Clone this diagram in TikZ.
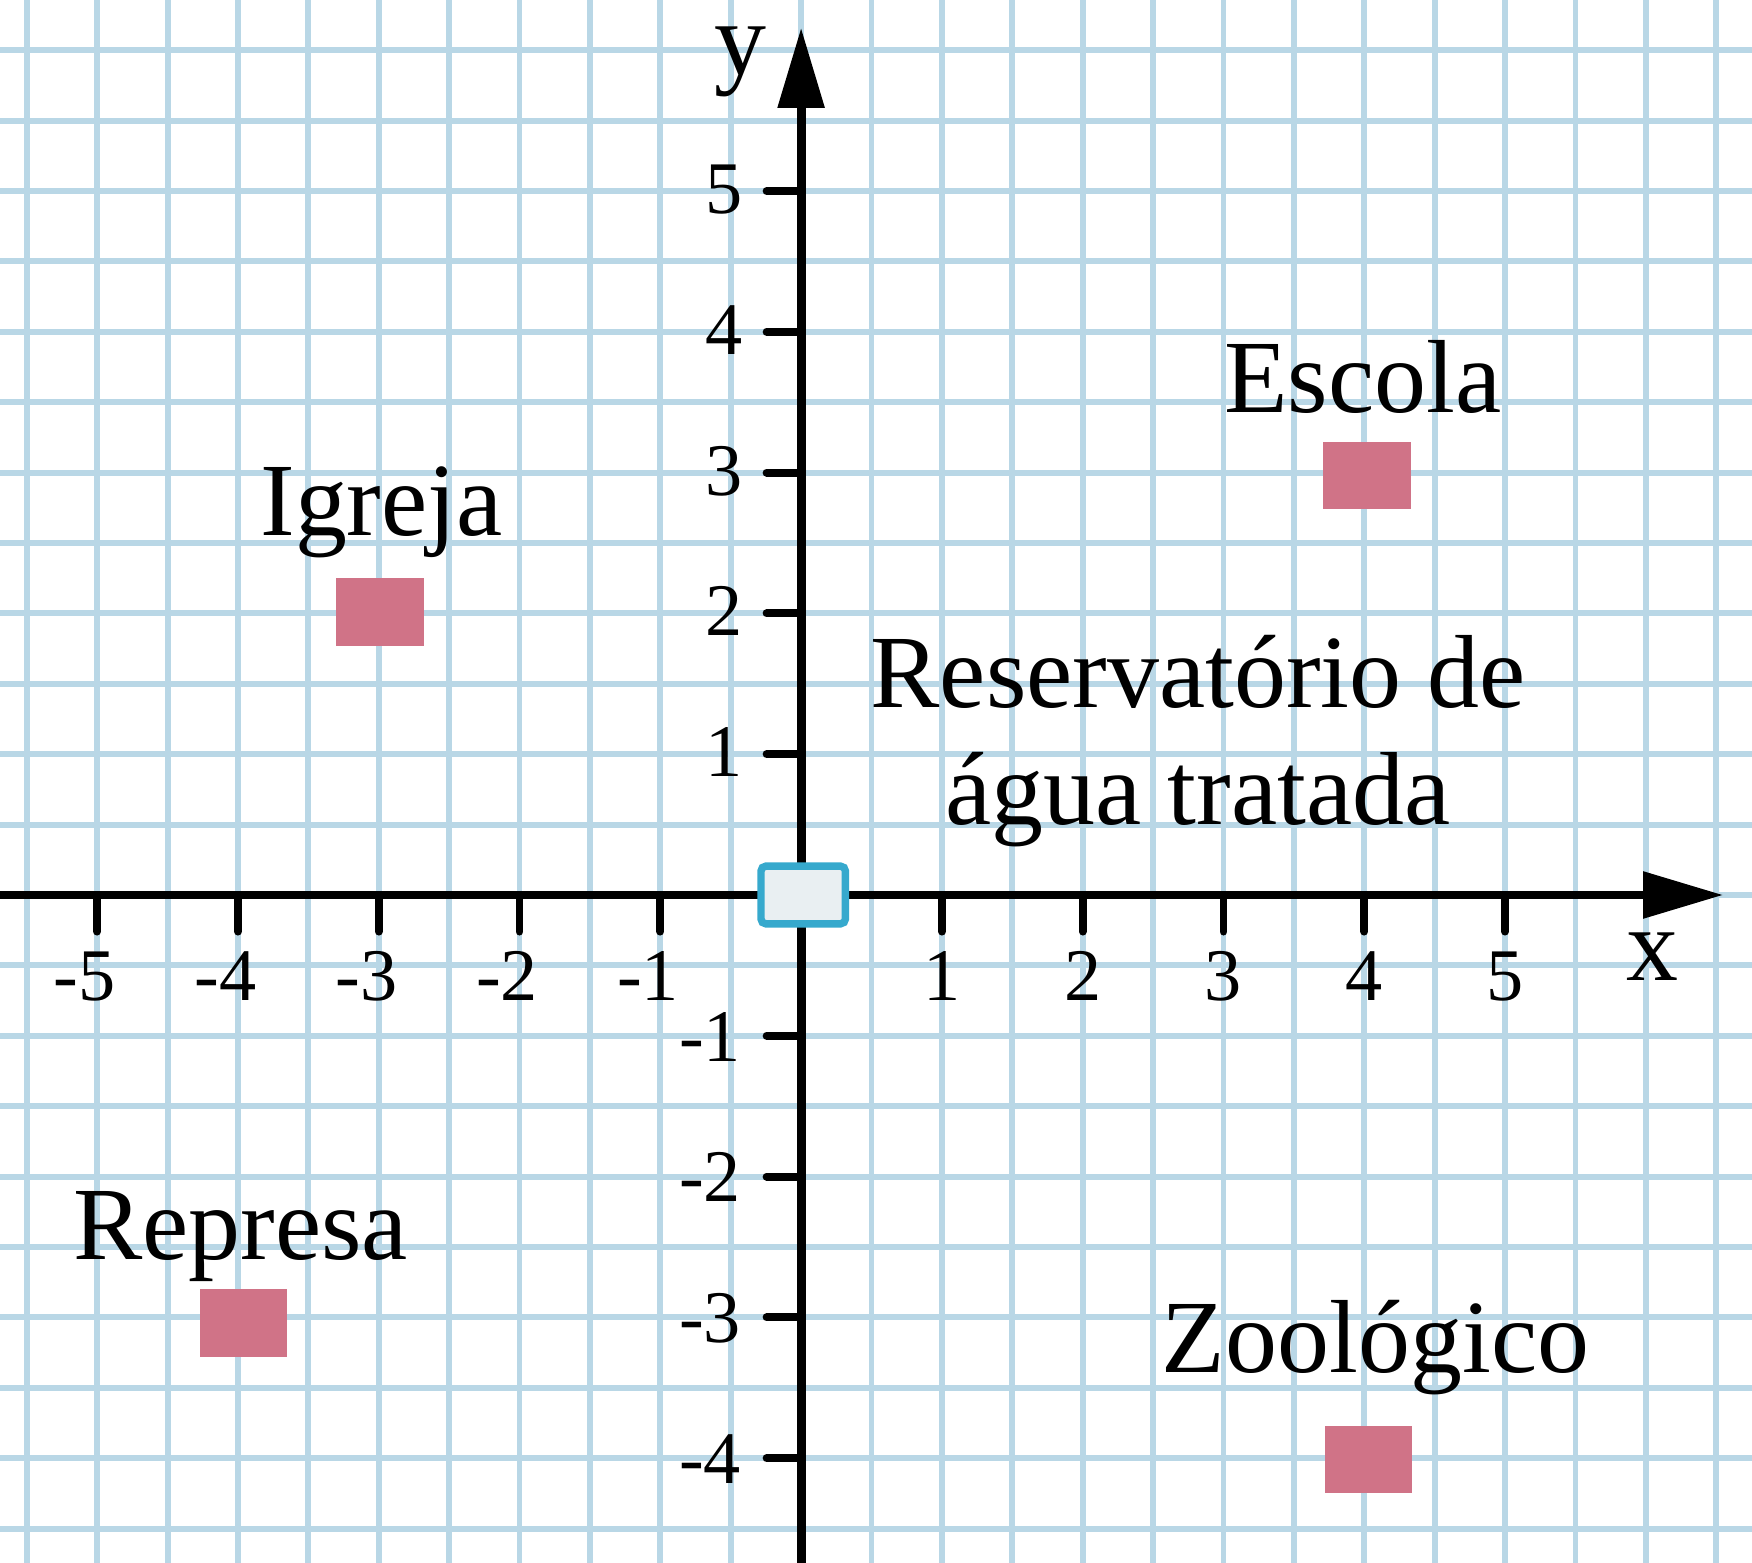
\documentclass[tikz,border=0pt]{standalone}
\usepackage{fontspec}
\setmainfont{Liberation Serif}
\usetikzlibrary{arrows.meta}

\definecolor{gridblue}{RGB}{185,215,230}
\definecolor{spotpink}{RGB}{208,115,135}
\definecolor{tankblue}{RGB}{54,169,205}
\definecolor{tankfill}{RGB}{233,239,242}

\begin{document}
\begin{tikzpicture}[>={Triangle[length=0.57cm, width=0.32cm]},
    axis/.style={line width=1.8pt, black},
    tickmark/.style={line width=1.6pt, line cap=round},
    ticklbl/.style={font=\fontsize{15}{18}\selectfont, inner sep=0pt},
    placename/.style={font=\fontsize{21}{23.6}\selectfont, inner sep=0pt},
    spot/.style={fill=spotpink, minimum width=0.62cm, minimum height=0.48cm, inner sep=0pt}]
    % Frame of the picture and paper grid
    \useasboundingbox (-5.69,-4.744) rectangle (6.754,6.357);
    \fill[white] (-5.69,-4.744) rectangle (6.754,6.357);
    \draw[gridblue, line width=1.2pt, step=0.5] (-5.69,-4.744) grid (6.754,6.357);
    
    % End points of the axes
    \coordinate (xstart) at (-5.69,0);
    \coordinate (xend) at (6.55,0);
    \coordinate (ystart) at (0,-4.744);
    \coordinate (yend) at (0,6.16);
    
    % Axes with arrows
    \draw[axis, ->] (xstart) -- (xend);
    \draw[axis, ->] (ystart) -- (yend);
    
    % Ticks on x and y
    \foreach \x in {-5,...,-1,1,2,...,5}
        \draw[tickmark] (\x,0) -- (\x,-0.26);
    \foreach \y in {-4,...,-1,1,2,...,5}
        \draw[tickmark] (0,\y) -- (-0.245,\y);
    
    % Tick labels
    \foreach \x in {1,...,5} {
        \node[ticklbl, anchor=base] (xl\x) at (\x,-0.75) {\x};
        \node[ticklbl, anchor=base] (xln\x) at (-\x,-0.75) {\llap{-}\x};
    }
    \foreach \y in {1,...,5}
        \node[ticklbl, anchor=base east] (yl\y) at (-0.41,\y-0.16) {\y};
    \foreach \y in {1,...,4}
        \node[ticklbl, anchor=base east] (yln\y) at (-0.42,-\y-0.18) {-\y};
    
    % Axis names
    \node[placename, anchor=base] (xname) at (6.05,-0.61) {x};
    \node[placename, anchor=base] (yname) at (-0.43,5.83) {y};
    
    % Water tank at the origin
    \node[draw=tankblue, fill=tankfill, line width=1.5pt, rounded corners=1pt,
          minimum width=0.6cm, minimum height=0.41cm, inner sep=0pt] (tank) at (0.015,0) {};
    
    % Places
    \node[spot] (igrejaspot) at (-2.99,2.01) {};
    \node[spot] (escolaspot) at (4.02,2.98) {};
    \node[spot] (represaspot) at (-3.96,-3.04) {};
    \node[spot] (zoospot) at (4.03,-4.01) {};
    
    % Place names
    \node[placename, anchor=base] (igreja) at (-2.98,2.55) {Igreja};
    \node[placename, anchor=base] (escola) at (3.99,3.43) {Escola};
    \node[placename, anchor=base, align=center] (tankname) at (2.82,0.50) {Reservatório de\\água tratada};
    \node[placename, anchor=base] (represa) at (-3.98,-2.59) {Represa};
    \node[placename, anchor=base] (zoo) at (4.08,-3.395) {Zoológico};
\end{tikzpicture}
\end{document}
